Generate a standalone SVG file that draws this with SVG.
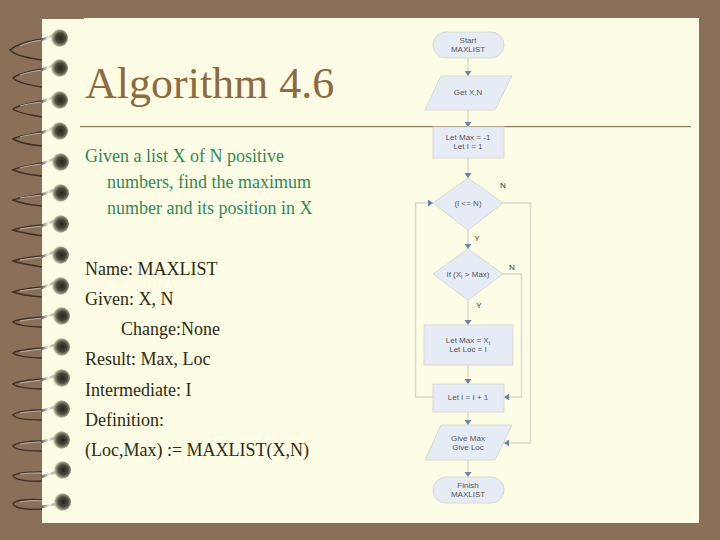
<svg xmlns="http://www.w3.org/2000/svg" width="720" height="540" viewBox="0 0 720 540">
<style>
.t{font-family:"Liberation Serif","Times New Roman",serif;fill:#2e2a10;font-size:18px}
.h{fill:#8f6a3e;font-size:44px}
.g{fill:#2e8b57}
.f{font-family:"Liberation Sans",Arial,sans-serif;font-size:8px;fill:#555;text-anchor:middle}
.l{font-family:"Liberation Sans",Arial,sans-serif;font-size:8px;fill:#333;text-anchor:middle}
.s{fill:#e6ecf5;stroke:#d8dace;stroke-width:1}
.c{fill:none;stroke:#d8dccf;stroke-width:1.5}
.r{fill:none;stroke:#3d3229;stroke-width:1.5}
.q{fill:none;stroke:#b9b6a8;stroke-width:1}
.w{fill:none;stroke:url(#w);stroke-width:2.5}
</style>
<defs>
<marker id="a" markerWidth="6" markerHeight="7" refX="5" refY="3.500" orient="auto" markerUnits="userSpaceOnUse"><path d="M0 0L5 3.500L0 7z" fill="#6a85ad"/></marker>
<radialGradient id="b" cx="0.58" cy="0.5" r="0.55"><stop offset="0" stop-color="#25231c"/><stop offset="0.5" stop-color="#4c4a3c"/><stop offset="0.8" stop-color="#a09e86"/><stop offset="1" stop-color="#e2e0c8" stop-opacity="0.3"/></radialGradient>
<linearGradient id="w" x1="0" y1="0" x2="1" y2="0"><stop offset="0" stop-color="#5a5045"/><stop offset="0.55" stop-color="#f0f0e8"/><stop offset="1" stop-color="#8f8a78"/></linearGradient>
</defs>
<rect width="720" height="540" fill="#8a6f59"/>
<rect x="42" y="19" width="657" height="504" fill="#fdfce5"/>
<rect x="84" y="18" width="615" height="1" fill="#fdfce5"/>
<g id="rings">
<path class="r" d="M42 39C28 41 16 45 10 50C14 55 28 58 42 60"/>
<path class="q" d="M42 40C34 41 26 43 20 46"/>
<path class="r" d="M42 69C30 71 18 74 13 78C18 83 30 85 42 87"/>
<path class="q" d="M42 70C34 71 26 73 20 75"/>
<path class="r" d="M42 101C30 103 18 105 13 109C18 113 30 115 42 117"/>
<path class="q" d="M42 102C34 103 26 104 20 106"/>
<path class="r" d="M42 132C30 134 18 136 13 139C18 142 30 145 42 146"/>
<path class="q" d="M42 133C34 134 26 135 20 137"/>
<path class="r" d="M42 163C30 165 18 167 13 170C18 172 30 175 42 176"/>
<path class="q" d="M42 164C34 165 26 166 20 168"/>
<path class="r" d="M42 194C30 196 18 198 13 200C18 202 30 205 42 206"/>
<path class="q" d="M42 195C34 196 26 197 20 198"/>
<path class="r" d="M42 225C30 226 18 228 13 230C18 232 30 234 42 236"/>
<path class="q" d="M42 226C34 227 26 228 20 229"/>
<path class="r" d="M42 256C30 257 18 259 13 261C18 263 30 265 42 267"/>
<path class="q" d="M42 257C34 258 26 259 20 260"/>
<path class="r" d="M42 287C30 288 18 290 13 292C18 294 30 296 42 297"/>
<path class="q" d="M42 288C34 289 26 290 20 291"/>
<path class="r" d="M42 317C28 318 16 320 13 322C16 325 30 327 42 327"/>
<path class="q" d="M42 318C34 319 26 320 20 321"/>
<path class="r" d="M42 348C28 349 16 351 13 353C16 356 30 358 42 358"/>
<path class="q" d="M42 349C34 350 26 351 20 352"/>
<path class="r" d="M42 379C28 380 16 382 13 384C16 387 30 389 42 389"/>
<path class="q" d="M42 380C34 381 26 382 20 383"/>
<path class="r" d="M42 410C28 410 15 412 13 415C15 419 30 420 42 420"/>
<path class="q" d="M42 411C34 411 26 412 20 413"/>
<path class="r" d="M42 441C28 441 15 443 13 446C15 450 30 451 42 451"/>
<path class="q" d="M42 442C34 442 26 443 20 444"/>
<path class="r" d="M42 472C28 472 15 473 13 476C15 480 30 482 42 481"/>
<path class="q" d="M42 473C34 473 26 473 20 474"/>
<path class="r" d="M42 500C28 499 15 500 13 504C15 509 30 510 42 509"/>
<path class="q" d="M42 501C34 500 26 501 20 502"/>
<path class="w" d="M41 40L54 35"/><circle cx="59" cy="38" r="9" fill="url(#b)"/>
<path class="w" d="M41 70L54 65"/><circle cx="59" cy="68" r="9" fill="url(#b)"/>
<path class="w" d="M41 102L54 97"/><circle cx="59" cy="100" r="9" fill="url(#b)"/>
<path class="w" d="M41 133L54 128"/><circle cx="59" cy="131" r="9" fill="url(#b)"/>
<path class="w" d="M41 164L54 159"/><circle cx="60" cy="162" r="9" fill="url(#b)"/>
<path class="w" d="M41 195L54 190"/><circle cx="60" cy="193" r="9" fill="url(#b)"/>
<path class="w" d="M41 226L54 221"/><circle cx="60" cy="224" r="9" fill="url(#b)"/>
<path class="w" d="M41 257L54 252"/><circle cx="60" cy="255" r="9" fill="url(#b)"/>
<path class="w" d="M41 288L54 283"/><circle cx="60" cy="286" r="9" fill="url(#b)"/>
<path class="w" d="M41 318L55 314"/><circle cx="61" cy="316" r="9" fill="url(#b)"/>
<path class="w" d="M41 349L55 345"/><circle cx="61" cy="347" r="9" fill="url(#b)"/>
<path class="w" d="M41 380L55 376"/><circle cx="61" cy="378" r="9" fill="url(#b)"/>
<path class="w" d="M41 411L55 407"/><circle cx="61" cy="409" r="9" fill="url(#b)"/>
<path class="w" d="M41 442L55 438"/><circle cx="61" cy="440" r="9" fill="url(#b)"/>
<path class="w" d="M41 477L56 472"/><circle cx="62" cy="470" r="9" fill="url(#b)"/>
<path class="w" d="M41 507L56 504"/><circle cx="62" cy="502" r="9" fill="url(#b)"/>
</g>
<rect x="80" y="126" width="611" height="1.2" fill="#8d7a5e"/>
<text class="t h" x="85" y="98">Algorithm 4.6</text>
<text class="t g" x="85" y="162">Given a list X of N positive</text>
<text class="t g" x="107" y="188">numbers, find the maximum</text>
<text class="t g" x="107" y="214">number and its position in X</text>
<text class="t" x="85" y="275">Name: MAXLIST</text>
<text class="t" x="85" y="305">Given: X, N</text>
<text class="t" x="121" y="335">Change:None</text>
<text class="t" x="85" y="365">Result: Max, Loc</text>
<text class="t" x="85" y="396">Intermediate: I</text>
<text class="t" x="85" y="426">Definition:</text>
<text class="t" x="85" y="456">(Loc,Max) := MAXLIST(X,N)</text>
<g id="connectors">
<path class="c" d="M468 58V76" marker-end="url(#a)"/>
<path class="c" d="M468 110V127" marker-end="url(#a)"/>
<path class="c" d="M468 158V178" marker-end="url(#a)"/>
<path class="c" d="M468 230V249" marker-end="url(#a)"/>
<path class="c" d="M468 300V325" marker-end="url(#a)"/>
<path class="c" d="M468 365V384" marker-end="url(#a)"/>
<path class="c" d="M468 412V425" marker-end="url(#a)"/>
<path class="c" d="M468 460V477" marker-end="url(#a)"/>
<path class="c" d="M433 397H415.500V203H433" marker-end="url(#a)"/>
<path class="c" d="M503 203H530.500V443H504" marker-end="url(#a)"/>
<path class="c" d="M503 274H521.500V397H504" marker-end="url(#a)"/>
</g>
<g id="start"><rect class="s" x="433" y="32" width="71" height="26" rx="13"/><text class="f" x="468" y="43">Start</text><text class="f" x="468" y="52">MAXLIST</text></g>
<g id="input"><path class="s" d="M441 76H512L495 110H425z"/><text class="f" x="468" y="95">Get X,N</text></g>
<g id="init"><rect class="s" x="433" y="127" width="71" height="31" stroke="none"/><text class="f" x="468" y="140">Let Max = -1</text><text class="f" x="468" y="149">Let I = 1</text></g>
<g id="d1"><path class="s" d="M468 178L503 203L468 230L433 203z"/><text class="f" x="468" y="206">(I &lt;= N)</text></g>
<g id="d2"><path class="s" d="M468 249L503 274L468 300L433 274z"/><text class="f" x="468" y="277">If (X<tspan font-size="5.500" dy="2">I</tspan><tspan dy="-2"> &gt; Max)</tspan></text></g>
<g id="set"><rect class="s" x="424" y="325" width="89" height="40" stroke="none"/><text class="f" x="468" y="343">Let Max = X<tspan font-size="5.500" dy="2">I</tspan></text><text class="f" x="468" y="352">Let Loc = I</text></g>
<g id="inc"><rect class="s" x="433" y="384" width="71" height="28" stroke="none"/><text class="f" x="468" y="400">Let I = I + 1</text></g>
<g id="output"><path class="s" d="M441 425H512L495 460H425z"/><text class="f" x="468" y="441">Give Max</text><text class="f" x="468" y="450">Give Loc</text></g>
<g id="finish"><rect class="s" x="433" y="477" width="71" height="26" rx="13"/><text class="f" x="468" y="488">Finish</text><text class="f" x="468" y="497">MAXLIST</text></g>
<text class="l" x="503" y="188">N</text>
<text class="l" x="477" y="241">Y</text>
<text class="l" x="512" y="270">N</text>
<text class="l" x="479" y="308">Y</text>
</svg>
